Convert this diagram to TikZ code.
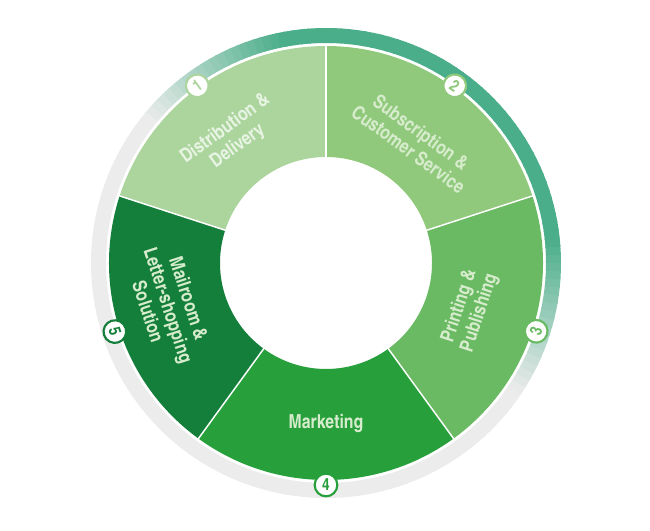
\documentclass[tikz,border=0pt]{standalone}
\usepackage{fontspec}
\setmainfont{TeX Gyre Heros Cn}
\usetikzlibrary{positioning,calc}

\definecolor{segA}{HTML}{ACD59E}
\definecolor{segB}{HTML}{90C97B}
\definecolor{segC}{HTML}{69BA62}
\definecolor{segD}{HTML}{27A03B}
\definecolor{segE}{HTML}{147F3B}
\definecolor{ringteal}{HTML}{4AAE8A}
\definecolor{ringgray}{HTML}{ECECEC}
\definecolor{labeltxt}{HTML}{D6ECCD}
\definecolor{labelpale}{HTML}{E8F4E3}

\tikzset{
  seglabel/.style={text=labeltxt, align=center, inner sep=0pt,
    font=\fontsize{14.5}{16}\selectfont\bfseries},
  badge/.style={circle, fill=white, line width=1.6pt, minimum size=17pt,
    inner sep=0pt, font=\fontsize{12.5}{12.5}\selectfont\bfseries},
  sepline/.style={white, line width=1.1pt}
}

\begin{document}
\begin{tikzpicture}[x=0.75pt,y=0.75pt]
    \useasboundingbox (0,0) rectangle (650,531);
    \coordinate (O) at (326,268);

    % outer ring, teal on the upper right fading into grey
    \foreach \a in {-180,-178,...,178}{
      \pgfmathsetmacro\w{100*max(0,min(1,(\a+35)/40,(140-\a)/40))}
      \colorlet{ringc}{ringteal!\w!ringgray}
      \fill[ringc] ($(O)+(\a:220)$) arc[start angle=\a, end angle=\a+2.4, radius=220]
        -- ($(O)+(\a+2.4:235)$) arc[start angle=\a+2.4, end angle=\a, radius=235] -- cycle;
    }

    % the five segments
    \foreach \s/\c in {90/segA, 18/segB, -54/segC, -126/segD, 162/segE}{
      \fill[\c] ($(O)+(\s:106)$) arc[start angle=\s, end angle=\s+72, radius=106]
        -- ($(O)+(\s+72:217)$) arc[start angle=\s+72, end angle=\s, radius=217] -- cycle;
    }
    \foreach \s in {90,18,-54,-126,162}
      \draw[sepline] ($(O)+(\s:105)$) -- ($(O)+(\s:218)$);

    % labels
    \node[seglabel, text=labelpale, rotate=36] (dist) at ($(O)+(127:157)$) {Distribution \&\\Delivery};
    \node[seglabel, rotate=-36] (subs) at ($(O)+(54:151)$) {Subscription \&\\Customer Service};
    \node[seglabel, rotate=72] (print) at ($(O)+(-18:151)$) {Printing \&\\Publishing};
    \node[seglabel] (mark) at ($(O)+(-90:161)$) {Marketing};
    \node[seglabel, rotate=-72] (mail) at ($(O)+(195:163)$) {Mailroom \&\\Letter-shopping\\Solution};

    % numbered badges
    \node[badge, draw=segA, text=segA, rotate=36] (b1) at ($(O)+(126:219)$) {1};
    \node[badge, draw=segB, text=segB, rotate=-36] (b2) at ($(O)+(54:219)$) {2};
    \node[badge, draw=segC, text=segC, rotate=72] (b3) at ($(O)+(-18:221)$) {3};
    \node[badge, draw=segD, text=segD] (b4) at ($(O)+(-90:222)$) {4};
    \node[badge, draw=segE, text=segE, rotate=-72] (b5) at ($(O)+(198:222)$) {5};
\end{tikzpicture}
\end{document}
